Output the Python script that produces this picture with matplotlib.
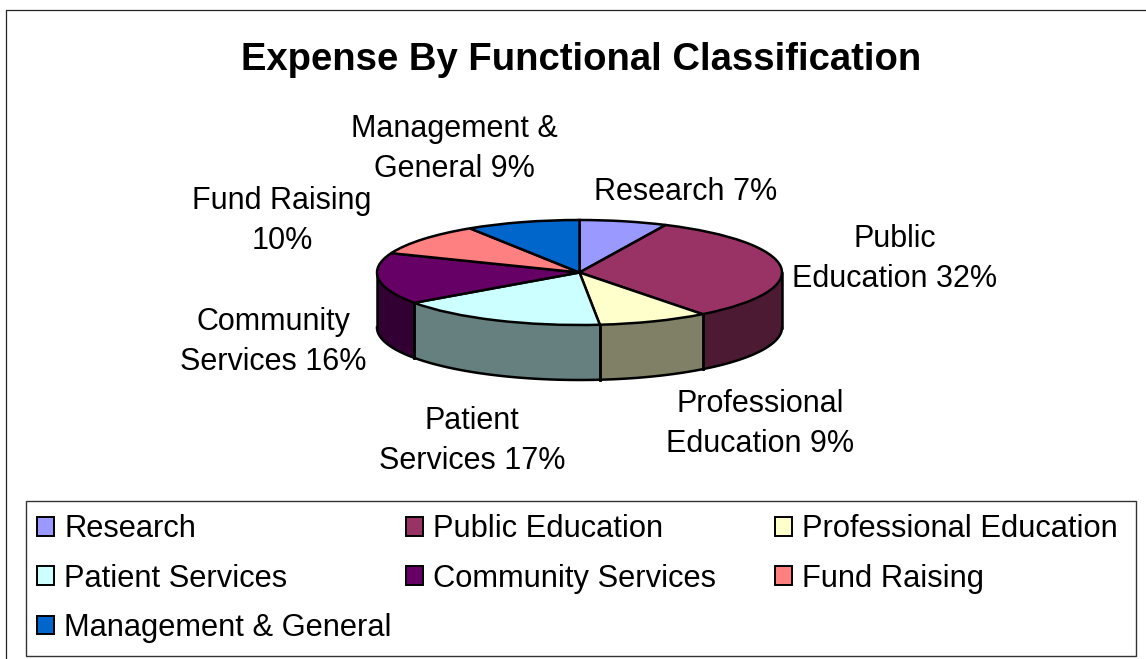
import matplotlib
matplotlib.use("Agg")
import matplotlib.pyplot as plt
import numpy as np
from matplotlib.lines import Line2D
from matplotlib.patches import Rectangle

plt.rcParams["font.family"] = ["Liberation Sans", "DejaVu Sans"]

categories = ["Research", "Public Education", "Professional Education", "Patient Services",
              "Community Services", "Fund Raising", "Management & General"]
# the labels are rounded, these are read from the slice edges
values = [7, 32.6, 8.8, 16.8, 15.8, 9.9, 9.1]
slice_labels = ["Research 7%", "Public\nEducation 32%", "Professional\nEducation 9%", "Patient\nServices 17%",
                "Community\nServices 16%", "Fund Raising\n10%", "Management &\nGeneral 9%"]
top_colors = ["#9999ff", "#993366", "#ffffcc", "#ccffff", "#660066", "#ff8080", "#0066cc"]
side_colors = ["#4d4d80", "#4d1a33", "#808066", "#668080", "#330033", "#804040", "#003366"]
title = "Expense By Functional Classification"

W, H = 1146, 659


def px(x, y):
    """pixel position (y down) to figure fraction"""
    return x / W, 1 - y / H


fig = plt.figure(figsize=(W / 100, H / 100), dpi=100, facecolor="white")

# outer chart border, only left and top are inside the picture
fig.add_artist(Line2D([6 / W, 6 / W, 1], [0, 1 - 10 / H, 1 - 10 / H], color="#222222", lw=0.9))

fig.text(*px(581.5, 60), title, ha="center", va="center", fontsize=27.5, fontweight="bold", color="black")

# ------------- pie -------------
cx, cy, rx, ry, depth = 579.5, 272.5, 202.5, 52.5, 55
ax = fig.add_axes([(cx - rx) / W, 1 - (cy + ry + depth) / H, 2 * rx / W, (2 * ry + depth) / H])
wedges, _ = ax.pie(values, colors=top_colors, startangle=90, counterclock=False, radius=1,
                   wedgeprops={"edgecolor": "black", "linewidth": 1.8, "zorder": 3})
ax.set_aspect("auto")
ax.set_xlim(-1, 1)
ax.set_ylim(-1 - depth / ry, 1)
ax.axis("off")
for w in wedges:
    w.set_clip_on(False)

# side walls, only the front half of the disc shows
edges = np.cumsum([0] + values) / sum(values) * 360
drop = depth / ry
for i in range(len(values)):
    start = max(edges[i], 90)
    stop = min(edges[i + 1], 270)
    if stop <= start:
        continue
    t = np.deg2rad(np.linspace(start, stop, 60))
    ax.fill_between(np.sin(t), np.cos(t), np.cos(t) - drop, color=side_colors[i], zorder=1, lw=0, clip_on=False)
    ax.plot(np.sin(t), np.cos(t) - drop, color="black", lw=1.8, zorder=2, clip_on=False)
    for a in (start, stop):
        s = np.deg2rad(a)
        ax.plot([np.sin(s)] * 2, [np.cos(s), np.cos(s) - drop], color="black", lw=1.8, zorder=2, clip_on=False)

# ------------- slice labels -------------
label_pos = [(686, 192.5), (895, 259), (760, 424), (472, 441), (273, 342), (282, 221), (454, 149)]
for text, (x, y) in zip(slice_labels, label_pos):
    fig.text(*px(x, y), text, ha="center", va="center", fontsize=22, linespacing=1.42, color="black")

# ------------- legend -------------
fig.add_artist(Rectangle(px(25.5, 655.5), 1110 / W, 155 / H, transform=fig.transFigure,
                         facecolor="white", edgecolor="#333333", lw=1, zorder=-1))
legend_x = [31, 400, 769]
for col, x in enumerate(legend_x):
    idx = range(col, len(values), 3)
    handles = [Rectangle((0, 0), 1, 1, facecolor=top_colors[i], edgecolor="black", lw=1.4) for i in idx]
    fig.legend(handles, [categories[i] for i in idx], loc="upper left", bbox_to_anchor=px(x, 508),
               bbox_transform=fig.transFigure, frameon=False, fontsize=22.2, handlelength=0.55, handleheight=0.55,
               handletextpad=0.33, labelspacing=0.63, borderpad=0.2, borderaxespad=0)

fig.savefig("out.png", dpi=100)
